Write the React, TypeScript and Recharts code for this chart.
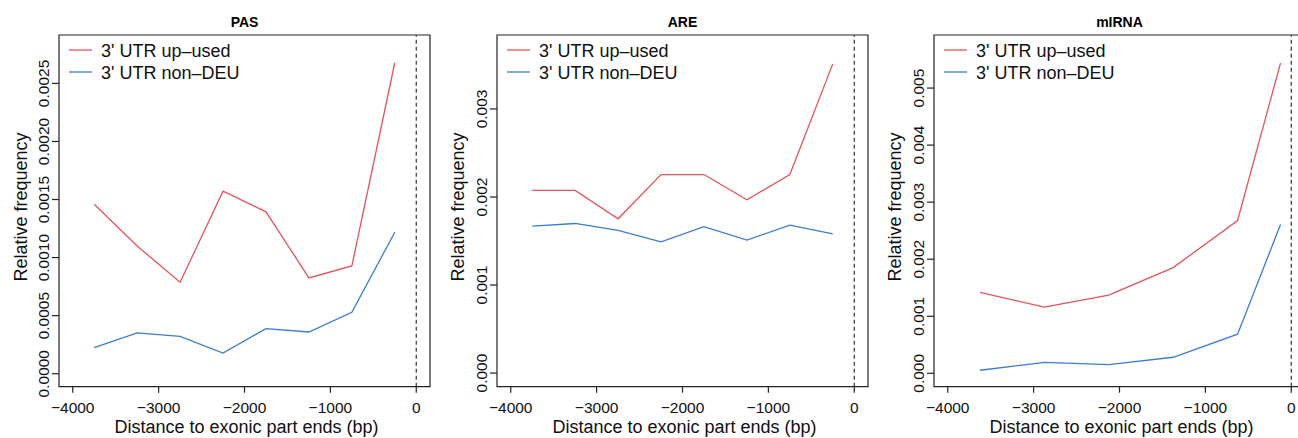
import { LineChart, Line, XAxis, YAxis, ReferenceLine, ReferenceArea, Legend } from "recharts";

// bin centres (bp) and relative frequencies
const pasX = [-3750, -3250, -2750, -2250, -1750, -1250, -750, -250];
const pasUp = [0.00146, 0.0011, 0.000787, 0.001572, 0.001394, 0.000825, 0.000928, 0.002678];
const pasNon = [0.000224, 0.000351, 0.000322, 0.000178, 0.000388, 0.000359, 0.000529, 0.001218];

const areX = [-3750, -3250, -2750, -2250, -1750, -1250, -750, -250];
const areUp = [0.002074, 0.002074, 0.001752, 0.002255, 0.002255, 0.001968, 0.002255, 0.003512];
const areNon = [0.001669, 0.001699, 0.00162, 0.001491, 0.001662, 0.00151, 0.00168, 0.001582];

const mirX = [-3625, -2875, -2125, -1375, -625, -125];
const mirUp = [0.001418, 0.00116, 0.001371, 0.001852, 0.002678, 0.005437];
const mirNon = [0.000053, 0.000193, 0.000153, 0.000281, 0.000685, 0.002608];

const xTicks = [-4000, -3000, -2000, -1000, 0];
const pasTicks = [0, 0.0005, 0.001, 0.0015, 0.002, 0.0025];
const areTicks = [0, 0.001, 0.002, 0.003];
const mirTicks = [0, 0.001, 0.002, 0.003, 0.004, 0.005];

const seriesNames = ["3' UTR up\u2013used", "3' UTR non\u2013DEU"];

const RED = "#e3545b";
const BLUE = "#3a7dcf";
const seriesColors = [RED, BLUE];
const INK = "#222";
const FONT = '"Liberation Sans", Arial, Helvetica, sans-serif';
const PLOT_W = 371;
const PLOT_TOP = 35;
const PLOT_BOTTOM = 386.7;
const X_DOMAIN: [number, number] = [-4160, 160];

const fmtX = (v: number) => (v < 0 ? "\u2212" + Math.abs(v) : String(v));

interface PanelProps {
  title: string;
  xs: number[];
  up: number[];
  non: number[];
  yDomain: [number, number];
  yTicks: number[];
  digits: number;
  left: number;
  axisW: number;
}

// R-style legend: short line sample then label, in series order
const LegendBody = () => (
  <div style={{ fontFamily: FONT, fontSize: 18, color: "#111" }}>
    {seriesNames.map((name, i) => (
      <div key={name} style={{ display: "flex", alignItems: "center", height: 21.7, whiteSpace: "nowrap" }}>
        <svg width={23} height={6} style={{ marginRight: 9, display: "block" }}>
          <line x1={0} y1={3} x2={23} y2={3} stroke={seriesColors[i]} strokeWidth={1.3} />
        </svg>
        <span style={{ position: "relative", top: 1.5 }}>{name}</span>
      </div>
    ))}
  </div>
);

function Panel({ title, xs, up, non, yDomain, yTicks, digits, left, axisW }: PanelProps) {
  const data = xs.map((x, i) => ({ x, up: up[i], non: non[i] }));
  const width = axisW + PLOT_W + 6;

  return (
    <div style={{ position: "absolute", left, top: 0 }}>
      <LineChart
        width={width}
        height={438}
        data={data}
        margin={{ top: PLOT_TOP, right: 6, bottom: 0, left: 0 }}
        style={{ fontFamily: FONT }}
      >
        <XAxis
          dataKey="x"
          type="number"
          domain={X_DOMAIN}
          ticks={xTicks}
          allowDataOverflow
          axisLine={false}
          tickLine={{ stroke: INK, strokeWidth: 1.2 }}
          tickSize={6}
          height={438 - PLOT_BOTTOM}
          tick={(p: any) => (
            <text x={p.x} y={PLOT_BOTTOM + 20.6} textAnchor="middle" dominantBaseline="central" fontSize={15.5} fill="#111" fontFamily={FONT}>
              {fmtX(p.payload.value)}
            </text>
          )}
          label={(p: any) => (
            <text x={p.viewBox.x + p.viewBox.width / 2 + 2} y={426.5} textAnchor="middle" dominantBaseline="central" fontSize={18} fill="#111" fontFamily={FONT}>
              Distance to exonic part ends (bp)
            </text>
          )}
        />
        <YAxis
          type="number"
          domain={yDomain}
          ticks={yTicks}
          allowDataOverflow
          width={axisW}
          axisLine={false}
          tickLine={{ stroke: INK, strokeWidth: 1.2 }}
          tickSize={7}
          tick={(p: any) => (
            <text
              x={axisW - 15}
              y={p.y}
              transform={`rotate(-90, ${axisW - 15}, ${p.y})`}
              textAnchor="middle"
              dominantBaseline="central"
              fontSize={15.5}
              fill="#111"
              fontFamily={FONT}
            >
              {p.payload.value.toFixed(digits)}
            </text>
          )}
          label={(p: any) => (
            <text
              x={p.viewBox.x + 21}
              y={207}
              transform={`rotate(-90, ${p.viewBox.x + 21}, 207)`}
              textAnchor="middle"
              dominantBaseline="central"
              fontSize={18}
              fill="#111"
              fontFamily={FONT}
            >
              Relative frequency
            </text>
          )}
        />
        <ReferenceLine x={0} stroke="#333" strokeWidth={1.2} strokeDasharray="4 3" />
        <Line dataKey="up" name={seriesNames[0]} stroke={RED} strokeWidth={1.3} dot={false} isAnimationActive={false} />
        <Line dataKey="non" name={seriesNames[1]} stroke={BLUE} strokeWidth={1.3} dot={false} isAnimationActive={false} />
        <ReferenceArea
          x1={X_DOMAIN[0]}
          x2={X_DOMAIN[1]}
          y1={yDomain[0]}
          y2={yDomain[1]}
          fill="none"
          stroke={INK}
          strokeWidth={1.2}
          label={(p: any) => (
            <text x={p.viewBox.x + p.viewBox.width / 2} y={26.7} textAnchor="middle" fontSize={14} fontWeight="bold" fill="#000" fontFamily={FONT}>
              {title}
            </text>
          )}
        />
        <Legend
          layout="vertical"
          align="center"
          verticalAlign="middle"
          wrapperStyle={{ left: axisW + 10, top: 39, width: "auto", height: "auto" }}
          content={() => <LegendBody />}
        />
      </LineChart>
    </div>
  );
}

export default function App() {
  return (
    <div style={{ position: "absolute", left: 0, top: 0, width: 1298, height: 438, overflow: "hidden", background: "#fff" }}>
      <Panel title="PAS" xs={pasX} up={pasUp} non={pasNon} yDomain={[-0.000112, 0.002917]} yTicks={pasTicks} digits={4} left={0} axisW={59} />
      <Panel title="ARE" xs={areX} up={areUp} non={areNon} yDomain={[-0.000155, 0.00384]} yTicks={areTicks} digits={3} left={437} axisW={60} />
      <Panel title="mIRNA" xs={mirX} up={mirUp} non={mirNon} yDomain={[-0.000235, 0.00593]} yTicks={mirTicks} digits={3} left={874} axisW={60} />
    </div>
  );
}
